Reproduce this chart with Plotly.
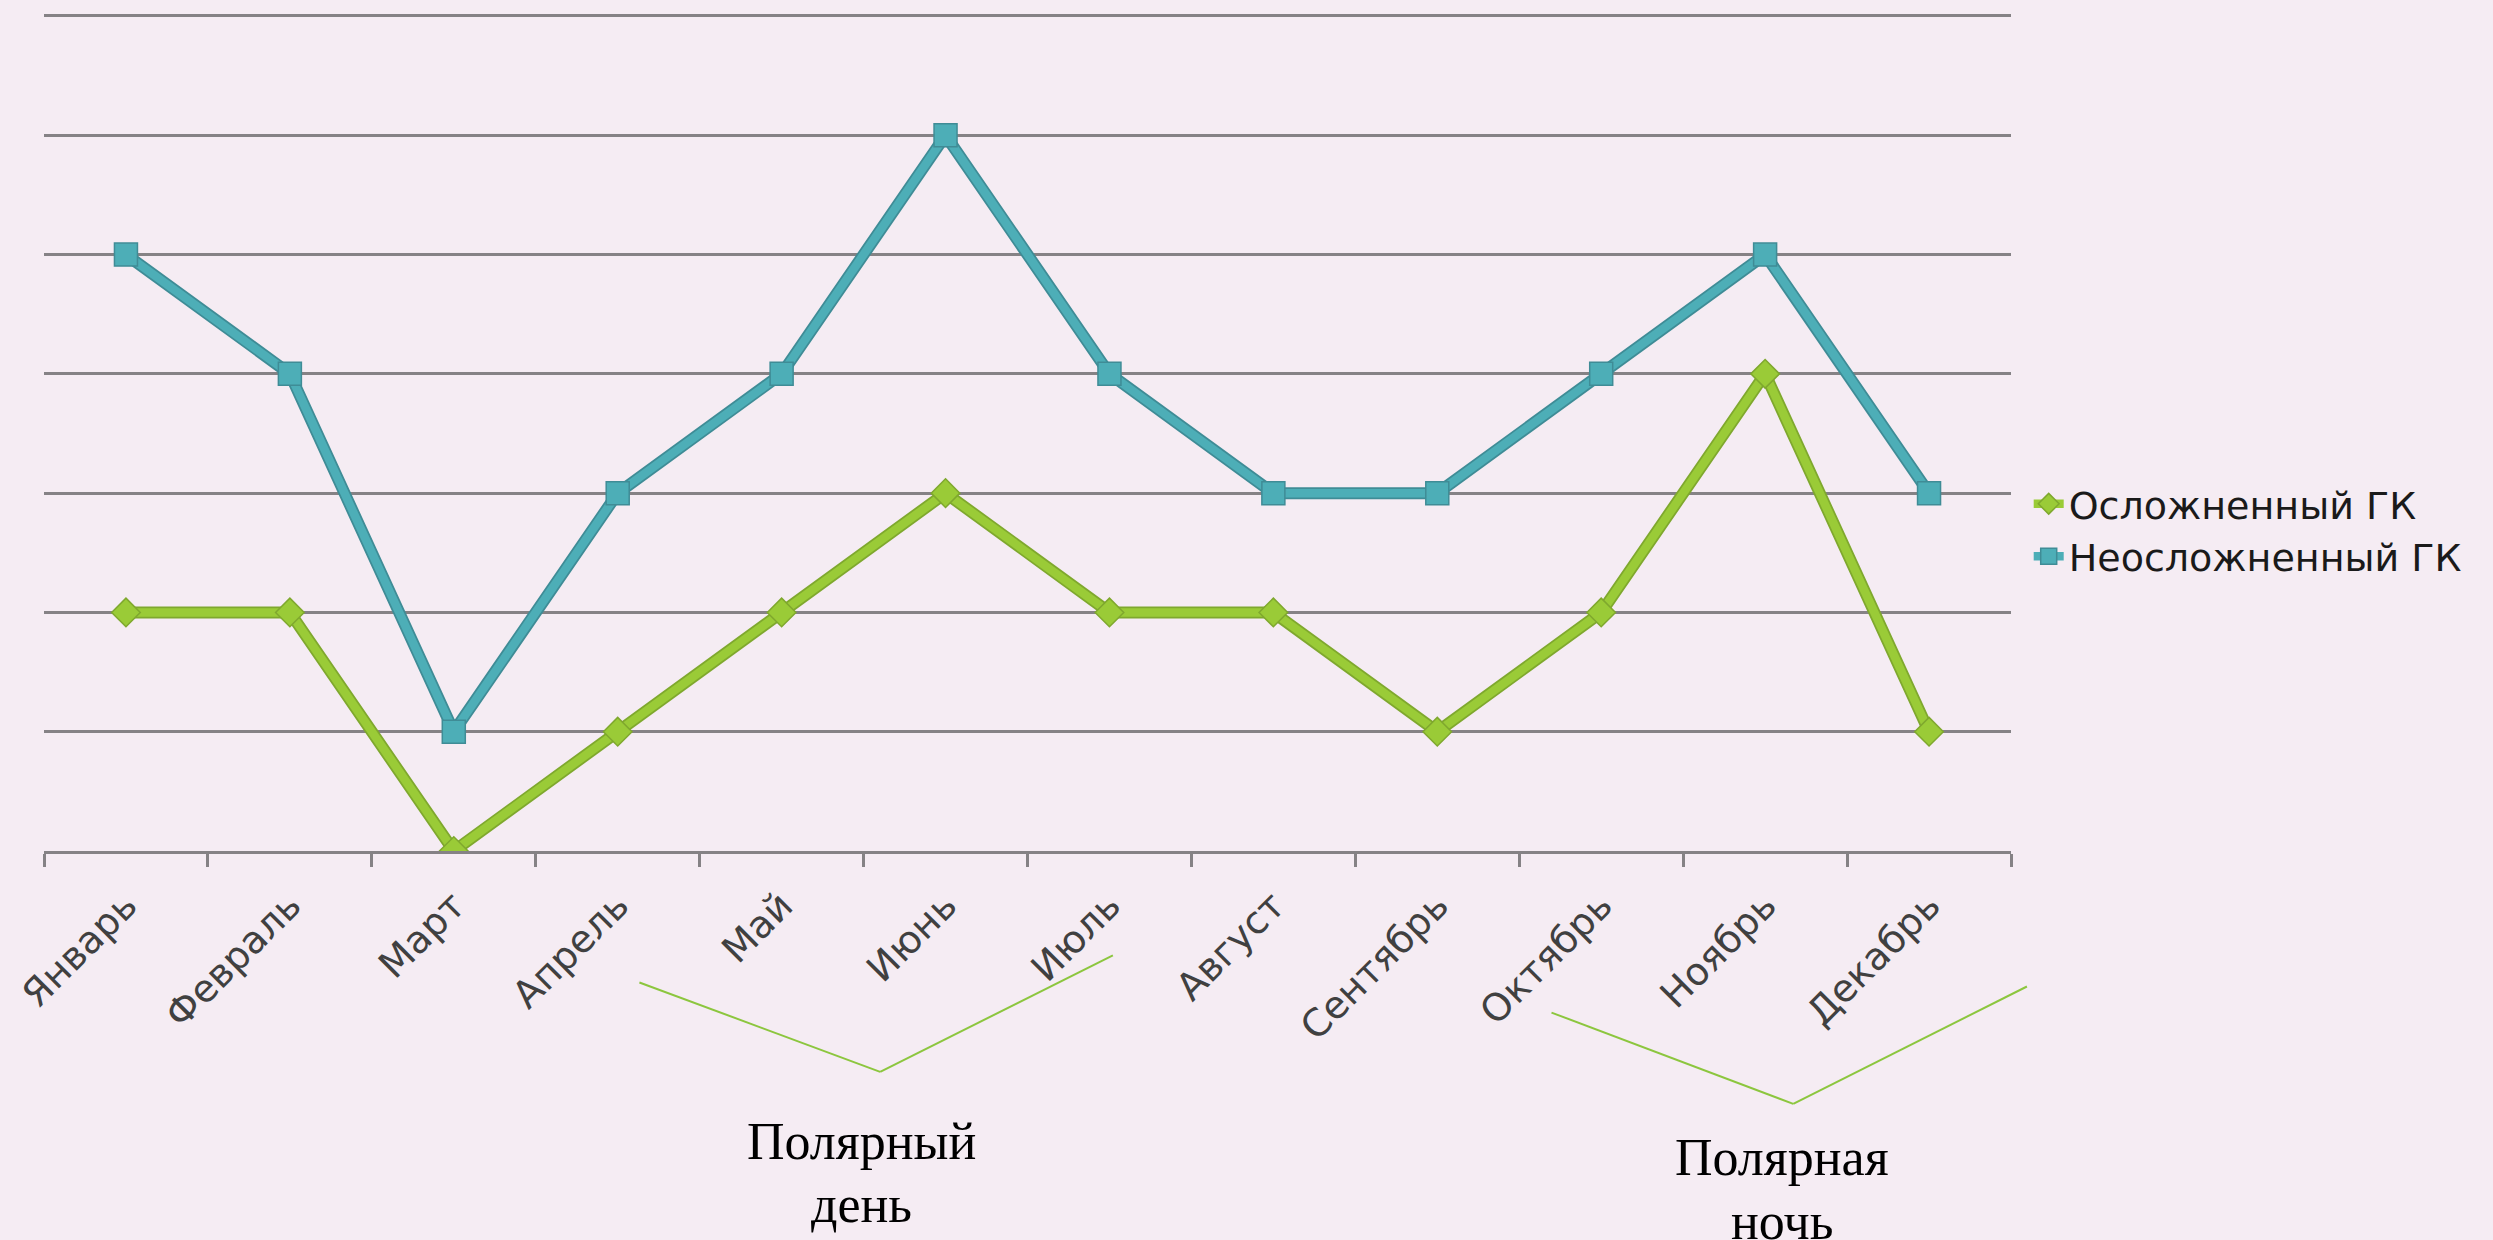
import plotly.graph_objects as go

months = ["Январь", "Февраль", "Март", "Апрель", "Май", "Июнь",
          "Июль", "Август", "Сентябрь", "Октябрь", "Ноябрь", "Декабрь"]
complicated = [2, 2, 0, 1, 2, 3, 2, 2, 1, 2, 4, 1]
uncomplicated = [5, 4, 1, 3, 4, 6, 4, 3, 3, 4, 5, 3]
series_names = ["Осложненный ГК", "Неосложненный ГК"]
period_labels = [("Полярный", "день"), ("Полярная", "ночь")]

BG = "#F5ECF3"
GREEN = "#9ACB37"
GREEN_DARK = "#7FA82E"
TEAL = "#4DAEB7"
TEAL_DARK = "#3F8C96"
GRID = "#858285"

fig = go.Figure()

# darker outline lines underneath
fig.add_trace(go.Scatter(x=months, y=complicated, mode="lines",
                         line=dict(color=GREEN_DARK, width=12),
                         showlegend=False, hoverinfo="skip"))
fig.add_trace(go.Scatter(x=months, y=uncomplicated, mode="lines",
                         line=dict(color=TEAL_DARK, width=12),
                         showlegend=False, hoverinfo="skip"))

fig.add_trace(go.Scatter(x=months, y=complicated, mode="lines+markers",
                         name=series_names[0],
                         line=dict(color=GREEN, width=8.5),
                         marker=dict(symbol="diamond", size=22, color=GREEN,
                                     line=dict(color=GREEN_DARK, width=1.5))))
fig.add_trace(go.Scatter(x=months, y=uncomplicated, mode="lines+markers",
                         name=series_names[1],
                         line=dict(color=TEAL, width=8.5),
                         marker=dict(symbol="square", size=23, color=TEAL,
                                     line=dict(color=TEAL_DARK, width=1.5))))

# brackets (paper coords)
brackets = [
    [(0.3027, -0.1569), (0.4251, -0.2635), (0.5434, -0.1246)],
    [(0.7664, -0.1928), (0.8893, -0.3018), (1.0081, -0.1617)],
]
for br in brackets:
    for (x0, y0), (x1, y1) in zip(br[:-1], br[1:]):
        fig.add_shape(type="line", xref="paper", yref="paper",
                      x0=x0, y0=y0, x1=x1, y1=y1,
                      line=dict(color="#8CC63E", width=2))

label_pos = [
    (0.4157, -0.3461, -0.4216),
    (0.8837, -0.3653, -0.4419),
]
for (l1, l2), (x, y1, y2) in zip(period_labels, label_pos):
    for txt, yy in ((l1, y1), (l2, y2)):
        fig.add_annotation(text=txt, xref="paper", yref="paper", x=x, y=yy,
                           xanchor="center", yanchor="middle", showarrow=False,
                           font=dict(family="Liberation Serif", size=52, color="#000000"))

fig.update_layout(
    width=2485, height=1232,
    paper_bgcolor=BG, plot_bgcolor=BG,
    margin=dict(l=34, r=482, t=5, b=389),
    showlegend=True,
    legend=dict(x=1.009, y=0.383, xanchor="left", yanchor="middle",
                font=dict(family="DejaVu Sans", size=38, color="#1a1a1a"),
                itemwidth=30, bgcolor="rgba(0,0,0,0)", tracegroupgap=0),
    xaxis=dict(type="category", range=[-0.5, 11.5], showgrid=False,
               showline=True, linecolor=GRID, linewidth=3,
               ticks="outside", tickson="boundaries", ticklen=13,
               tickcolor=GRID, tickwidth=2.5, tickangle=-45,
               ticklabelstandoff=14,
               tickfont=dict(family="DejaVu Sans", size=38, color="#404040")),
    yaxis=dict(range=[0, 7.025], dtick=1, showgrid=True, gridcolor=GRID, gridwidth=3,
               showticklabels=False, zeroline=False, showline=False, ticks=""),
)

fig.write_html("out.html", post_script="document.body.style.background='%s';" % BG)
